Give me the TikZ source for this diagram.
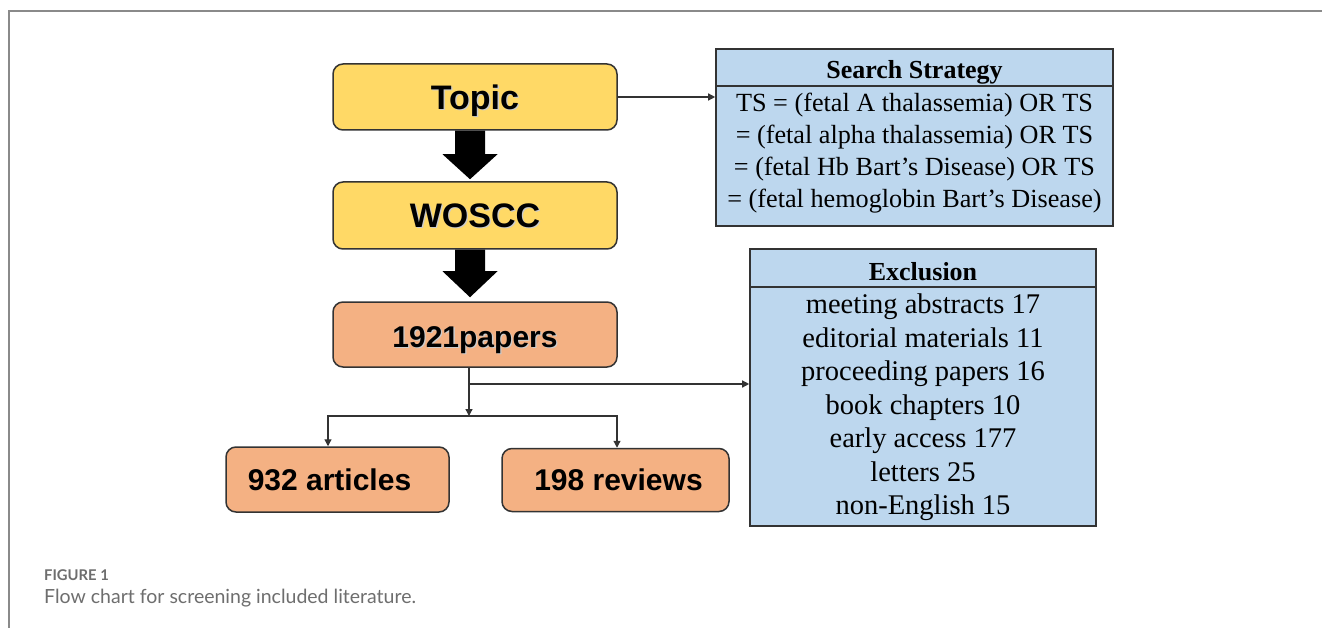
\documentclass[tikz,border=0pt]{standalone}
\usepackage{fontspec}
\setmainfont{Liberation Serif}
\newfontfamily\boxsans{Liberation Sans}
\newfontfamily\capfont{Lato}
\usetikzlibrary{calc,arrows.meta}
\definecolor{boxyellow}{HTML}{FFD966}
\definecolor{boxsalmon}{HTML}{F4B183}
\definecolor{boxblue}{HTML}{BDD7EE}
\definecolor{edgecol}{HTML}{333333}
\definecolor{capgray}{HTML}{6E6E6E}
\definecolor{framegray}{HTML}{8A8A8A}
\newcommand\shtext[1]{\leavevmode\rlap{\kern1.3pt\raisebox{-1.3pt}{\color{black!20}#1}}#1}
\newcommand\bigarrow[4]{%
  \fill[black] ([xshift=-20pt]#1.south) -- ([xshift=-20pt,yshift=#3]#2.north)
    -- ([xshift=-32.5pt,yshift=#3]#2.north) -- ([xshift=-5pt,yshift=#4]#2.north)
    -- ([xshift=22.5pt,yshift=#3]#2.north) -- ([xshift=10pt,yshift=#3]#2.north)
    -- ([xshift=10pt]#1.south) -- cycle;}
\begin{document}
\begin{tikzpicture}[x=1pt,y=-1pt,
  rbox/.style={draw=edgecol, line width=1.5pt, rounded corners=10pt, inner sep=0pt,
    text height=24.3pt, text depth=0pt,
    font=\boxsans\bfseries\fontsize{34}{40}\selectfont},
  sbox/.style={rbox, text height=21.5pt, font=\boxsans\bfseries\fontsize{30}{36}\selectfont},
  bluebox/.style={draw=edgecol, line width=1.6pt, fill=boxblue, inner sep=0pt},
  headtext/.style={font=\bfseries\fontsize{26}{31}\selectfont, inner sep=0pt,
    text height=17.2pt, text depth=0pt},
  stxt/.style={align=center, inner sep=0pt, font=\fontsize{26.2}{32}\selectfont},
  etxt/.style={align=center, inner sep=0pt, font=\fontsize{28.5}{33.5}\selectfont},
  conn/.style={draw=edgecol, line width=1.3pt, -{Triangle[length=7pt,width=7pt]}},
  captxt/.style={anchor=base west, inner sep=0pt, text=capgray}
]
\useasboundingbox (0,0) rectangle (1322,628);
\fill[white] (0,0) rectangle (1322,628);
\draw[framegray, line width=1.3pt] (9,628) -- (9,11) -- (1322,11);

% main column
\node[rbox, fill=boxyellow, minimum width=284pt, minimum height=66pt] (topic) at (475,97) {\shtext{Topic}};
\node[rbox, fill=boxyellow, minimum width=284pt, minimum height=67pt] (woscc) at (475,215.5) {\shtext{WOSCC}};
\node[sbox, fill=boxsalmon, minimum width=284pt, minimum height=65pt] (papers) at (475,334.5) {\raisebox{-2pt}{\shtext{1921papers}}};
\node[sbox, fill=boxsalmon, minimum width=223pt, minimum height=65pt] (articles) at (337.5,479.5) {\hspace*{-16pt}932 articles};
\node[sbox, fill=boxsalmon, minimum width=227pt, minimum height=63pt] (reviews) at (615.5,480) {\hspace*{6pt}198 reviews};

\bigarrow{topic}{woscc}{27pt}{2pt}
\bigarrow{woscc}{papers}{30pt}{4pt}

% search strategy box
\node[bluebox, minimum width=397pt, minimum height=37pt] (shead) at (914.5,67.5) {};
\node[bluebox, minimum width=397pt, minimum height=140pt] (sbody) at (914.5,156) {};
\node[headtext] (sheadtxt) at ([yshift=-2pt]shead.center) {Search Strategy};
\node[stxt] (sbodytxt) at ([yshift=3pt]sbody.center) {TS = (fetal A thalassemia) OR TS\\= (fetal alpha thalassemia) OR TS\\= (fetal Hb Bart's Disease) OR TS\\= (fetal hemoglobin Bart's Disease)};

% exclusion box
\node[bluebox, minimum width=346pt, minimum height=38pt] (ehead) at (923,268) {};
\node[bluebox, minimum width=346pt, minimum height=239pt] (ebody) at (923,406.5) {};
\node[headtext] (eheadtxt) at ([yshift=-4pt]ehead.center) {Exclusion};
\node[etxt] (ebodytxt) at ([yshift=-1pt]ebody.center) {meeting abstracts 17\\editorial materials 11\\proceeding papers 16\\book chapters 10\\early access 177\\letters 25\\non-English 15};

% connectors
\coordinate (split) at (469,384);
\coordinate (bus) at (469,416);
\coordinate (busL) at (328,416);
\coordinate (busR) at (617,416);
\draw[conn] (topic.east) -- (topic.east -| sbody.west);
\draw[conn] (papers.south -| split) -- (bus);
\draw[conn] (split) -- (split -| ebody.west);
\draw[conn] (bus) -| (busL |- articles.north);
\draw[conn] (bus) -| (busR |- reviews.north);

% caption
\node[captxt, font=\capfont\bfseries\fontsize{14.8}{18}\selectfont] (figlabel) at (44,580) {FIGURE 1};
\node[captxt, font=\capfont\fontsize{19.5}{23}\selectfont] (figcap) at (44,603) {Flow chart for screening included literature.};
\end{tikzpicture}
\end{document}
